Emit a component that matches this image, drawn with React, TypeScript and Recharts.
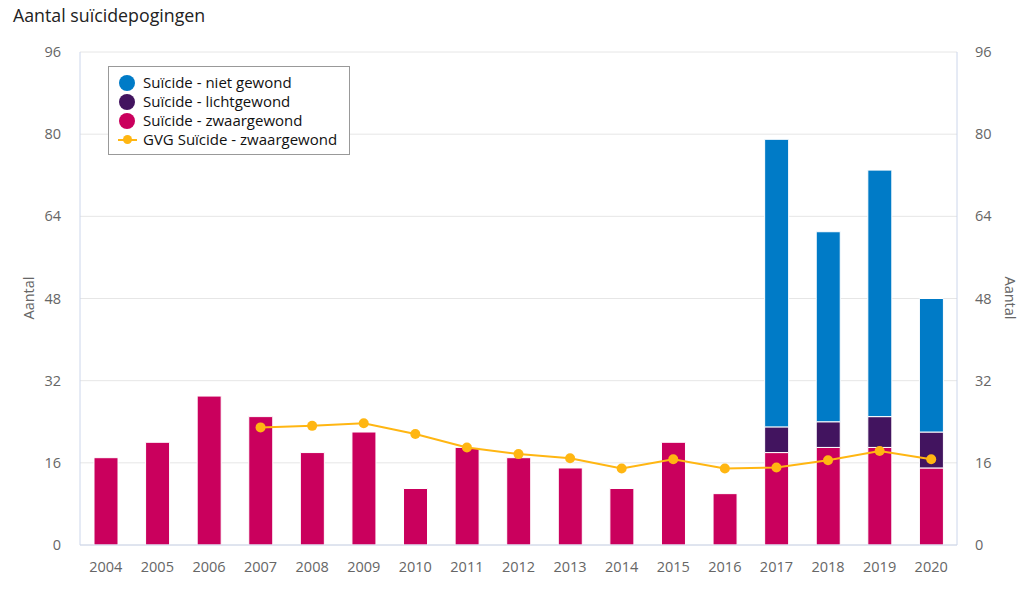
import React from 'react';
import { ComposedChart, Bar, Line, XAxis, YAxis, CartesianGrid } from 'recharts';

const years = ['2004','2005','2006','2007','2008','2009','2010','2011','2012','2013','2014','2015','2016','2017','2018','2019','2020'];
const zwaargewond = [17, 20, 29, 25, 18, 22, 11, 19, 17, 15, 11, 20, 10, 18, 19, 19, 15];
const lichtgewond = [null, null, null, null, null, null, null, null, null, null, null, null, null, 5, 5, 6, 7];
const nietGewond = [null, null, null, null, null, null, null, null, null, null, null, null, null, 56, 37, 48, 26];
const gvgZwaargewond = [null, null, null, 22.9, 23.2, 23.7, 21.6, 19.0, 17.7, 16.9, 14.9, 16.7, 14.9, 15.1, 16.5, 18.3, 16.7];
const yTicks = [0, 16, 32, 48, 64, 80, 96];

const C_BLUE = '#007bc7';
const C_PURPLE = '#42145f';
const C_PINK = '#ca005d';
const C_YELLOW = '#ffb612';

const data = years.map((y, i) => ({
  year: y,
  zwaar: zwaargewond[i],
  licht: lichtgewond[i],
  niet: nietGewond[i],
  gvg: gvgZwaargewond[i],
}));

const FONT = '"Open Sans", "Noto Sans", sans-serif';
const tickStyle = { fill: '#666666', fontSize: 14.5, fontFamily: FONT };

const legendItems = [
  { label: 'Suïcide - niet gewond', color: C_BLUE, type: 'circle' },
  { label: 'Suïcide - lichtgewond', color: C_PURPLE, type: 'circle' },
  { label: 'Suïcide - zwaargewond', color: C_PINK, type: 'circle' },
  { label: 'GVG Suïcide - zwaargewond', color: C_YELLOW, type: 'line' },
];

export default function App() {
  return (
    <div style={{ position: 'absolute', left: 0, top: 0, width: 1027, height: 595, background: '#fff', fontFamily: FONT }}>
      <div style={{ position: 'absolute', left: 13, top: 3, fontSize: 17.8, color: '#222', whiteSpace: 'nowrap' }}>
        Aantal suïcidepogingen
      </div>
      <ComposedChart
        width={1027}
        height={595}
        data={data}
        margin={{ top: 52, right: 0, bottom: 20, left: 0 }}
        barSize={24}
      >
        <CartesianGrid horizontal vertical={false} stroke="#e6e6e6" yAxisId="left" />
        <XAxis
          dataKey="year"
          height={30}
          tick={tickStyle}
          tickLine={false}
          tickSize={0}
          tickMargin={17}
          axisLine={{ stroke: '#ccd6eb' }}
          interval={0}
        />
        <YAxis
          yAxisId="left"
          orientation="left"
          width={80}
          domain={[0, 96]}
          ticks={yTicks}
          tick={tickStyle}
          tickLine={false}
          tickSize={0}
          tickMargin={19}
          axisLine={{ stroke: '#ccd6eb' }}
        />
        <YAxis
          yAxisId="right"
          orientation="right"
          width={70}
          domain={[0, 96]}
          ticks={yTicks}
          tick={tickStyle}
          tickLine={false}
          tickSize={0}
          tickMargin={18}
          axisLine={{ stroke: '#ccd6eb' }}
        />
        <Bar yAxisId="left" dataKey="zwaar" stackId="s" fill={C_PINK} stroke="#ffffff" strokeWidth={1} isAnimationActive={false} />
        <Bar yAxisId="left" dataKey="licht" stackId="s" fill={C_PURPLE} stroke="#ffffff" strokeWidth={1} isAnimationActive={false} />
        <Bar yAxisId="left" dataKey="niet" stackId="s" fill={C_BLUE} stroke="#ffffff" strokeWidth={1} isAnimationActive={false} />
        <Line
          yAxisId="right"
          dataKey="gvg"
          stroke="none"
          dot={false}
          activeDot={false}
          legendType="none"
          isAnimationActive={false}
        />
        <Line
          yAxisId="left"
          dataKey="gvg"
          stroke={C_YELLOW}
          strokeWidth={2}
          dot={{ r: 5, fill: C_YELLOW, stroke: C_YELLOW, strokeWidth: 0 }}
          activeDot={false}
          connectNulls={false}
          isAnimationActive={false}
        />
      </ComposedChart>
      <div style={{ position: 'absolute', left: 28, top: 298, transform: 'translate(-50%, -50%) rotate(-90deg)', fontSize: 14.5, color: '#666', whiteSpace: 'nowrap' }}>
        Aantal
      </div>
      <div style={{ position: 'absolute', left: 1010, top: 298, transform: 'translate(-50%, -50%) rotate(90deg)', fontSize: 14.5, color: '#666', whiteSpace: 'nowrap' }}>
        Aantal
      </div>
      <div style={{ position: 'absolute', left: 108, top: 66, width: 242, height: 89, border: '1px solid #999', background: '#fff', boxSizing: 'border-box', paddingTop: 6 }}>
        {legendItems.map((it) => (
          <div key={it.label} style={{ position: 'relative', height: 19, lineHeight: '19px', fontSize: 15, color: '#111', whiteSpace: 'nowrap' }}>
            {it.type === 'circle' ? (
              <span style={{ position: 'absolute', left: 10, top: 2, width: 16, height: 16, borderRadius: 8, background: it.color }} />
            ) : (
              <span style={{ position: 'absolute', left: 9, top: 9, width: 19, height: 2, background: it.color }}>
                <span style={{ position: 'absolute', left: 5, top: -4, width: 9, height: 9, borderRadius: 5, background: it.color }} />
              </span>
            )}
            <span style={{ position: 'absolute', left: 34 }}>{it.label}</span>
          </div>
        ))}
      </div>
    </div>
  );
}
